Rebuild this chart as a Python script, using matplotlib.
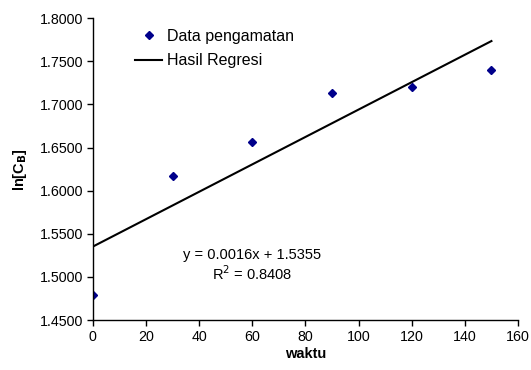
import numpy as np
import matplotlib
matplotlib.use("Agg")
import matplotlib.pyplot as plt

plt.rcParams['font.family'] = ['Liberation Sans', 'DejaVu Sans']

waktu = [0, 30, 60, 90, 120, 150]
ln_cb = [1.4790, 1.6174, 1.6568, 1.7130, 1.7200, 1.7397]
x_ticks = [0, 20, 40, 60, 80, 100, 120, 140, 160]
y_ticks = [1.45, 1.50, 1.55, 1.60, 1.65, 1.70, 1.75, 1.80]

slope, intercept = np.polyfit(waktu, ln_cb, 1)
x_fit = np.array([waktu[0], waktu[-1]])
y_fit = slope * x_fit + intercept

fig = plt.figure(figsize=(5.31, 3.70), dpi=100)
ax = fig.add_axes([0.175, 0.135, 0.8005, 0.816])

ax.plot(waktu, ln_cb, linestyle='none', marker='D', markersize=4.3,
        color='#00008B', label='Data pengamatan')
ax.plot(x_fit, y_fit, color='black', linewidth=1.5, label='Hasil Regresi')

ax.set_xlim(0, 160)
ax.set_ylim(1.45, 1.80)
ax.set_xticks(x_ticks)
ax.set_yticks(y_ticks)
ax.set_yticklabels([f"{v:.4f}" for v in y_ticks])
ax.tick_params(direction='out', length=4, width=1, labelsize=10.3, pad=3)
for s in ['top', 'right']:
    ax.spines[s].set_visible(False)
for s in ['left', 'bottom']:
    ax.spines[s].set_linewidth(1)

ax.set_xlabel('waktu', fontsize=10.5, fontweight='bold', labelpad=2)
ax.set_ylabel(r'ln[C$_\mathbf{B}$]', fontsize=10.5, fontweight='bold', labelpad=8)

ax.text(60, 1.5254, 'y = 0.0016x + 1.5355', ha='center', va='center', fontsize=10.5)
ax.text(60, 1.5034, r'R$^2$ = 0.8408', ha='center', va='center', fontsize=10.5)

leg = ax.legend(loc='upper left', bbox_to_anchor=(0.065, 1.012), frameon=False,
                fontsize=11.5, handlelength=1.7, handletextpad=0.3, labelspacing=0.6)

fig.savefig('out.png', dpi=100)
